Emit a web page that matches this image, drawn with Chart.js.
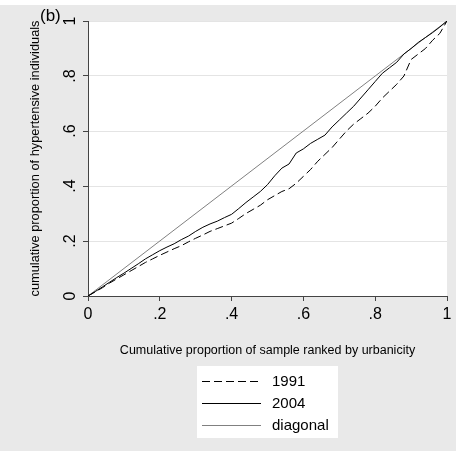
<!DOCTYPE html>
<html>
<head>
<meta charset="utf-8">
<script src="https://cdn.jsdelivr.net/npm/chart.js@4/dist/chart.umd.min.js"></script>
<style>
  html, body { margin: 0; padding: 0; background: #ffffff; }
  #wrap { width: 456px; height: 451px; position: relative; }
</style>
</head>
<body>
<div id="wrap"><canvas id="c" width="456" height="451"></canvas></div>
<script>
// ---- data ----
const rankPos = [0,0.02,0.04,0.06,0.08,0.10,0.12,0.14,0.16,0.18,0.20,0.22,0.24,0.26,0.28,0.30,0.32,0.34,0.36,0.38,0.40,0.42,0.44,0.46,0.48,0.50,0.52,0.54,0.56,0.58,0.60,0.62,0.64,0.66,0.68,0.70,0.72,0.74,0.76,0.78,0.80,0.82,0.84,0.86,0.88,0.90,0.92,0.94,0.96,0.98,1.00];
const hyper1991 = [0,0.015,0.030,0.047,0.062,0.077,0.092,0.107,0.122,0.135,0.148,0.160,0.172,0.183,0.197,0.210,0.222,0.235,0.245,0.255,0.265,0.282,0.300,0.315,0.330,0.350,0.365,0.380,0.390,0.410,0.435,0.460,0.490,0.515,0.540,0.570,0.600,0.625,0.645,0.665,0.690,0.720,0.745,0.770,0.800,0.860,0.880,0.900,0.930,0.955,1.000];
const hyper2004 = [0,0.016,0.033,0.050,0.067,0.083,0.100,0.117,0.135,0.150,0.165,0.178,0.190,0.205,0.218,0.235,0.250,0.262,0.272,0.285,0.297,0.318,0.340,0.360,0.380,0.405,0.437,0.465,0.480,0.520,0.535,0.555,0.570,0.585,0.615,0.640,0.665,0.690,0.720,0.750,0.780,0.810,0.830,0.850,0.880,0.900,0.922,0.940,0.958,0.978,1.000];
const diagonalX = [0, 1];
const diagonalY = [0, 1];
const seriesLabels = ['1991', '2004', 'diagonal'];
const tickLabels = ['0', '.2', '.4', '.6', '.8', '1'];
const xTitle = 'Cumulative proportion of sample ranked by urbanicity';
const yTitle = 'cumulative proportion of hypertensive individuals';
const panelLabel = '(b)';

const toPts = (xs, ys) => xs.map((x, i) => ({x: x, y: ys[i]}));
const FONT = "'Liberation Sans', Arial, Helvetica, sans-serif";

const bgPlugin = {
  id: 'bg',
  beforeDraw(chart) {
    const ctx = chart.ctx, a = chart.chartArea;
    ctx.save();
    ctx.fillStyle = '#ffffff';
    ctx.fillRect(0, 0, chart.width, chart.height);
    ctx.fillStyle = '#e9e9e9';
    ctx.fillRect(0, 5, chart.width, chart.height - 5);
    ctx.fillStyle = '#ffffff';
    ctx.fillRect(a.left, a.top, a.right - a.left, a.bottom - a.top);
    ctx.restore();
  },
  afterDraw(chart) {
    const ctx = chart.ctx, a = chart.chartArea;
    ctx.save();
    // panel label
    ctx.fillStyle = '#000';
    ctx.font = '17px ' + FONT;
    ctx.textAlign = 'left';
    ctx.textBaseline = 'alphabetic';
    ctx.fillText(panelLabel, 40, 21);
    // legend
    const cx = (a.left + a.right) / 2;
    const bw = 141, bh = 72;
    const bx = Math.round(cx - bw / 2), by = Math.round(a.bottom + 70);
    ctx.fillStyle = '#ffffff';
    ctx.fillRect(bx, by, bw, bh);
    ctx.font = '15px ' + FONT;
    ctx.textBaseline = 'middle';
    chart.data.datasets.forEach((ds, i) => {
      const y = by + 15 + i * 22 + 0.5;
      ctx.beginPath();
      ctx.strokeStyle = ds.borderColor;
      ctx.lineWidth = ds.borderWidth;
      ctx.setLineDash(ds.borderDash || []);
      ctx.moveTo(bx + 5, y);
      ctx.lineTo(bx + 64, y);
      ctx.stroke();
      ctx.setLineDash([]);
      ctx.fillStyle = '#000';
      ctx.fillText(ds.label, bx + 75, y);
    });
    ctx.restore();
  }
};

new Chart(document.getElementById('c'), {
  type: 'line',
  data: {
    datasets: [
      { label: seriesLabels[0], data: toPts(rankPos, hyper1991), borderColor: '#000000', borderWidth: 1, borderDash: [8, 4], pointRadius: 0, tension: 0, fill: false },
      { label: seriesLabels[1], data: toPts(rankPos, hyper2004), borderColor: '#000000', borderWidth: 1, pointRadius: 0, tension: 0, fill: false },
      { label: seriesLabels[2], data: toPts(diagonalX, diagonalY), borderColor: '#808080', borderWidth: 1, pointRadius: 0, tension: 0, fill: false }
    ]
  },
  options: {
    responsive: false,
    animation: false,
    events: [],
    layout: { padding: { left: 0, right: 9, top: 21, bottom: 91 } },
    plugins: { legend: { display: false }, tooltip: { enabled: false }, title: { display: false } },
    scales: {
      x: {
        type: 'linear', min: 0, max: 1,
        ticks: { stepSize: 0.2, color: '#000', font: { family: FONT, size: 16 }, padding: 4, maxRotation: 0,
                 callback: (v, i) => tickLabels[i] },
        grid: { display: true, drawOnChartArea: false, drawTicks: true, tickLength: 5, tickColor: '#444', tickWidth: 1 },
        border: { display: true, color: '#444', width: 1 },
        title: { display: true, text: xTitle, color: '#000', font: { family: FONT, size: 12.5 }, padding: { top: 0, bottom: 2 } },
        afterFit: (s) => { s.height = 64; }
      },
      y: {
        type: 'linear', min: 0, max: 1,
        ticks: { stepSize: 0.2, color: '#000', font: { family: FONT, size: 16 }, padding: 6, minRotation: 90, maxRotation: 90, crossAlign: 'center',
                 callback: (v, i) => tickLabels[i] },
        grid: { display: true, drawOnChartArea: true, color: '#e4e4e4', drawTicks: true, tickLength: 5, tickColor: '#444', tickWidth: 1 },
        border: { display: true, color: '#444', width: 1 },
        title: { display: true, text: yTitle, color: '#000', font: { family: FONT, size: 12.8 }, padding: { top: 28, bottom: 0 } },
        afterFit: (s) => { s.width = 88; }
      }
    }
  },
  plugins: [bgPlugin]
});
</script>
</body>
</html>
